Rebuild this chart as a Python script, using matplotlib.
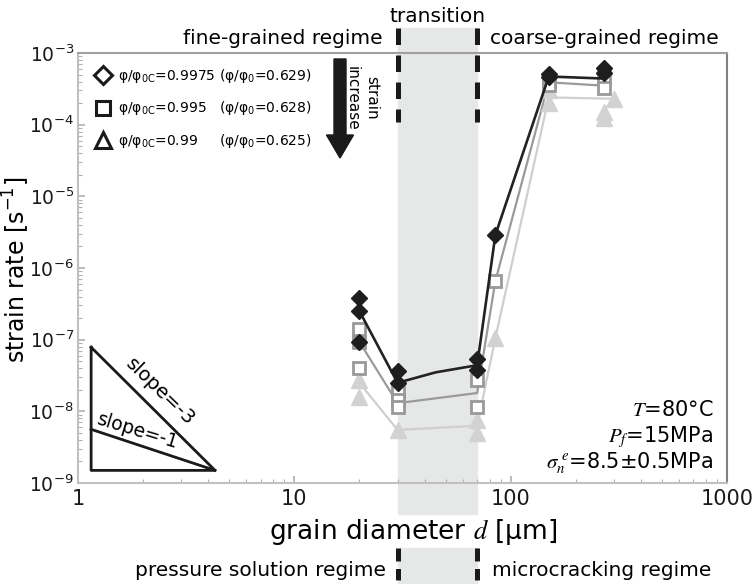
import numpy as np
import matplotlib
matplotlib.use("Agg")
import matplotlib.pyplot as plt
from matplotlib.lines import Line2D
from matplotlib.patches import Rectangle, FancyArrow
from matplotlib.transforms import blended_transform_factory

# grain diameter [um] and strain rate [1/s]
# lines through the typical values of each group
line_black_x = [20, 30, 45, 70, 85, 150, 270]
line_black_y = [2.5e-7, 2.5e-8, 3.5e-8, 4.4e-8, 2.9e-6, 4.7e-4, 4.4e-4]
line_gray_x = [20, 30, 70, 85, 150, 270]
line_gray_y = [9.3e-8, 1.3e-8, 1.8e-8, 6.6e-7, 3.9e-4, 3.5e-4]
line_light_x = [20, 30, 70, 85, 150, 300]
line_light_y = [2.5e-8, 5.5e-9, 6.3e-9, 1.06e-7, 2.4e-4, 2.3e-4]

# individual measurements
diamond_x = [20, 20, 20, 30, 30, 70, 70, 85, 150, 150, 270, 270]
diamond_y = [3.8e-7, 2.5e-7, 9.3e-8, 3.6e-8, 2.5e-8, 5.4e-8, 3.8e-8, 2.9e-6, 5.1e-4, 4.6e-4, 6.2e-4, 5.2e-4]
square_x = [20, 20, 20, 30, 30, 30, 70, 70, 85, 150, 150, 270, 270]
square_y = [1.42e-7, 9.3e-8, 4.05e-8, 1.9e-8, 1.45e-8, 1.16e-8, 2.75e-8, 1.16e-8, 6.6e-7, 4.2e-4, 3.6e-4, 4.6e-4, 3.3e-4]
triangle_x = [20, 20, 30, 70, 70, 85, 150, 150, 270, 270, 300]
triangle_y = [2.75e-8, 1.6e-8, 5.5e-9, 7.6e-9, 5.0e-9, 1.06e-7, 3.0e-4, 2.0e-4, 1.5e-4, 1.24e-4, 2.3e-4]

legend_labels = [
    'φ/φ$_{\\mathregular{0C}}$=0.9975 (φ/φ$_{\\mathregular{0}}$=0.629)',
    'φ/φ$_{\\mathregular{0C}}$=0.995   (φ/φ$_{\\mathregular{0}}$=0.628)',
    'φ/φ$_{\\mathregular{0C}}$=0.99     (φ/φ$_{\\mathregular{0}}$=0.625)',
]

# transition band and slope triangle
band = [30, 70]
slope_x = [1.15, 4.3]
slope_base = 1.5e-9

W, H = 754, 584
fig = plt.figure(figsize=(W / 100, H / 100), dpi=100)
ax = fig.add_axes([78 / W, 1 - 483 / H, (727 - 78) / W, (483 - 53) / H])
ax.set_facecolor('none')

# grey band behind everything, interrupted by the x label
bt = blended_transform_factory(ax.transData, fig.transFigure)
for y0, y1 in [(28, 514), (548, 584)]:
    fig.patches.append(Rectangle((band[0], 1 - y1 / H), band[1] - band[0], (y1 - y0) / H,
                                 transform=bt, color='#e6e7e7', zorder=-5, clip_on=False))
for xb in band:
    fig.add_artist(Line2D([xb, xb], [1 - 28 / H, 1 - 122 / H], transform=bt, color='#1a1a1a',
                          lw=3.6, dashes=(3.3, 2.1), dash_capstyle='butt', zorder=5))
    fig.add_artist(Line2D([xb, xb], [1 - 548 / H, 1 - 580 / H], transform=bt, color='#1a1a1a',
                          lw=3.6, dashes=(2.6, 1.5), dash_capstyle='butt', zorder=5))

ax.plot(line_light_x, line_light_y, color='#cfcfcf', lw=1.6, zorder=2)
ax.plot(line_gray_x, line_gray_y, color='#9a9a9a', lw=1.6, zorder=2)
ax.plot(line_black_x, line_black_y, color='#222222', lw=1.9, zorder=4)
ax.plot(triangle_x, triangle_y, ls='none', marker='^', ms=11, color='#d2d2d2', zorder=2)
ax.plot(square_x, square_y, ls='none', marker='s', ms=8.5, mfc='white', mec='#999999', mew=2, zorder=3)
ax.plot(diamond_x, diamond_y, ls='none', marker='D', ms=8, color='#1e1e1e', zorder=4)

# slope triangle
sx = np.array(slope_x)
ax.plot([sx[0], sx[0], sx[1], sx[0]], [slope_base * (sx[1] / sx[0]) ** 3, slope_base, slope_base,
                                        slope_base * (sx[1] / sx[0]) ** 3], color='#1a1a1a', lw=2)
ax.plot(sx, [slope_base * (sx[1] / sx[0]), slope_base], color='#1a1a1a', lw=2)
ax.text(2.4, 1.9e-8, 'slope=-3', rotation=-44, fontsize=14, ha='center', va='center')
ax.text(1.9, 5.3e-9, 'slope=-1', rotation=-17, fontsize=13.5, ha='center', va='center')

ax.set_xscale('log')
ax.set_yscale('log')
ax.set_xlim(1, 1000)
ax.set_ylim(1e-9, 1e-3)
ax.set_xticks([1, 10, 100, 1000])
ax.set_xticklabels(['1', '10', '100', '1000'])
ax.set_yticks([10.0 ** k for k in range(-9, -2)])
ax.set_yticklabels(['10$^{\\mathregular{%d}}$' % k for k in range(-9, -2)])
ax.tick_params(which='both', direction='in', color='#b0b0b0', labelsize=15, labelcolor='#1a1a1a')
ax.tick_params(axis='y', labelsize=13.5, pad=3)
ax.tick_params(which='major', length=5, width=1.2)
ax.tick_params(axis='x', pad=4)
ax.tick_params(which='minor', length=3, width=0.8)
for side, c in [('left', '#c0c0c0'), ('bottom', '#c0c0c0'), ('top', '#a0a0a0'), ('right', '#808080')]:
    ax.spines[side].set_color(c)
    ax.spines[side].set_linewidth(1.5)

handles = [Line2D([], [], ls='none', marker=m, ms=s, mfc='white', mec='#1a1a1a', mew=2.2)
           for m, s in [('D', 9), ('s', 10), ('^', 12)]]
ax.legend(handles, legend_labels, loc='upper left', bbox_to_anchor=(0.0, 1.0), frameon=False,
          fontsize=10, handletextpad=0.3, labelspacing=1.05, handlelength=1.6, borderaxespad=0.6)

# strain increase arrow
fig.patches.append(FancyArrow(3.40, (H - 59) / 100, 0, -0.99, width=0.12, head_width=0.27,
                              head_length=0.23, length_includes_head=True, color='#1a1a1a',
                              transform=fig.dpi_scale_trans))
fig.text(352 / W, 1 - 98 / H, 'increase', rotation=-90, fontsize=11, ha='center', va='center')
fig.text(372 / W, 1 - 98 / H, 'strain', rotation=-90, fontsize=11, ha='center', va='center')

# regime labels
fig.text(383 / W, 1 - 38 / H, 'fine-grained regime', fontsize=14.5, ha='right', va='center')
fig.text(438 / W, 1 - 16 / H, 'transition', fontsize=14.5, ha='center', va='center')
fig.text(490 / W, 1 - 38 / H, 'coarse-grained regime', fontsize=14.5, ha='left', va='center')
fig.text(386 / W, 1 - 570 / H, 'pressure solution regime', fontsize=14.5, ha='right', va='center')
fig.text(492 / W, 1 - 570 / H, 'microcracking regime', fontsize=14.5, ha='left', va='center')

# conditions
for yy, s in [(410, '$T$=80°C'), (437, '$P_f$=15MPa'), (463, '$\\sigma_n^{\\ e}$=8.5±0.5MPa')]:
    fig.text(713 / W, 1 - yy / H, s, fontsize=15, ha='right', va='center', math_fontfamily='stix')

fig.text(413 / W, 1 - 532 / H, 'grain diameter $d$ [μm]', fontsize=19, ha='center', va='center',
         math_fontfamily='stix')
fig.text(16 / W, 1 - 270 / H, 'strain rate [s$^{\\mathregular{-1}}$]', fontsize=17, rotation=90,
         ha='center', va='center')

fig.savefig('out.png', dpi=100)
